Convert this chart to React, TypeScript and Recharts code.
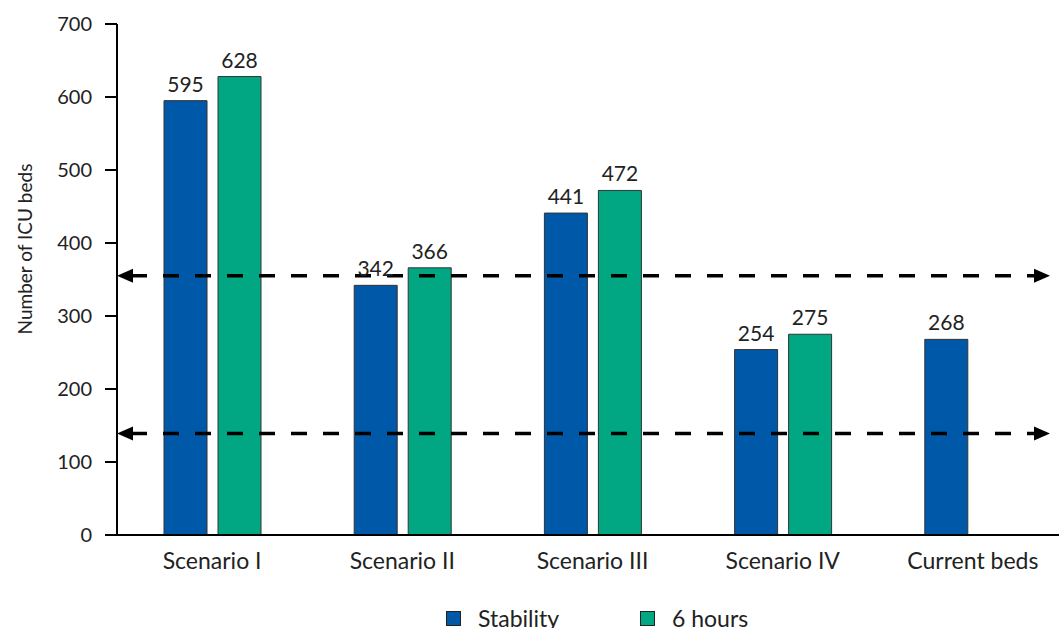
import { Bar, BarChart, LabelList, Legend, ReferenceLine, XAxis, YAxis } from "recharts";

const categories = ["Scenario I", "Scenario II", "Scenario III", "Scenario IV", "Current beds"];
const stability = [595, 342, 441, 254, 268];
const sixHours = [628, 366, 472, 275, null];
const yTicks = [0, 100, 200, 300, 400, 500, 600, 700];
const thresholds = [355, 139];

const BLUE = "#0058a8";
const GREEN = "#00a782";
const FONT = "Lato, 'Open Sans', sans-serif";

const series = [
  { key: "stability", name: "Stability", color: BLUE },
  { key: "sixHours", name: "6 hours", color: GREEN },
];

const data = categories.map((name, i) => ({
  name,
  stability: stability[i],
  sixHours: sixHours[i],
}));

// dashed line with an arrowhead at each end
function ArrowLine(props: any) {
  const { x1, y1, x2 } = props;
  const right = x2 - 18;
  const y = y1;
  return (
    <g>
      <line
        x1={x1 + 14}
        y1={y}
        x2={right - 14}
        y2={y}
        stroke="#000"
        strokeWidth={3.5}
        strokeDasharray="16 16"
      />
      <polygon points={`${x1},${y} ${x1 + 16},${y - 7} ${x1 + 16},${y + 7}`} fill="#000" />
      <polygon points={`${right},${y} ${right - 16},${y - 7} ${right - 16},${y + 7}`} fill="#000" />
    </g>
  );
}

function YTitle(props: any) {
  const { viewBox } = props;
  const x = viewBox.x + 24;
  const y = 249;
  return (
    <text
      x={x}
      y={y}
      transform={`rotate(-90 ${x} ${y})`}
      textAnchor="middle"
      dominantBaseline="central"
      fontSize={19}
      fontFamily={FONT}
      fill="#222"
    >
      Number of ICU beds
    </text>
  );
}

function LegendContent() {
  return (
    <div style={{ display: "flex", paddingLeft: 446, fontFamily: FONT, fontSize: 23, color: "#222" }}>
      {series.map((s) => (
        <div key={s.key} style={{ display: "flex", alignItems: "center", width: 194 }}>
          <span
            style={{
              display: "inline-block",
              width: 13,
              height: 13,
              background: s.color,
              border: "1px solid #222",
              marginRight: 17,
            }}
          />
          <span>{s.name}</span>
        </div>
      ))}
    </div>
  );
}

export default function App() {
  return (
    <div style={{ position: "absolute", left: 0, top: 0, width: 1059, height: 628, overflow: "hidden", background: "#fff" }}>
      <BarChart
        width={1080}
        height={650}
        data={data}
        margin={{ top: 24, right: 12, left: 0, bottom: 0 }}
        barSize={43}
        barGap={11}
      >
        <XAxis
          dataKey="name"
          axisLine={{ stroke: "#000", strokeWidth: 2 }}
          tickLine={false}
          tickSize={0}
          tickMargin={18}
          height={75}
          tick={{ fontSize: 23, fill: "#222", fontFamily: FONT }}
          interval={0}
        />
        <YAxis
          domain={[0, 700]}
          ticks={yTicks}
          width={117}
          axisLine={{ stroke: "#000", strokeWidth: 2 }}
          tickLine={{ stroke: "#000", strokeWidth: 2 }}
          tickSize={12}
          tickMargin={13}
          tick={{ fontSize: 20, fill: "#222", fontFamily: FONT }}
          label={<YTitle />}
        />
        <Legend
          verticalAlign="bottom"
          content={<LegendContent />}
          wrapperStyle={{ height: 40, left: 0, top: 604, width: 1080 }}
        />
        {series.map((s) => (
          <Bar
            key={s.key}
            dataKey={s.key}
            name={s.name}
            fill={s.color}
            stroke="#333"
            strokeWidth={1}
            isAnimationActive={false}
          >
            <LabelList dataKey={s.key} position="top" offset={9} fill="#222" fontSize={21} fontFamily={FONT} />
          </Bar>
        ))}
        {thresholds.map((t) => (
          <ReferenceLine key={t} y={t} shape={<ArrowLine />} ifOverflow="visible" />
        ))}
      </BarChart>
    </div>
  );
}
